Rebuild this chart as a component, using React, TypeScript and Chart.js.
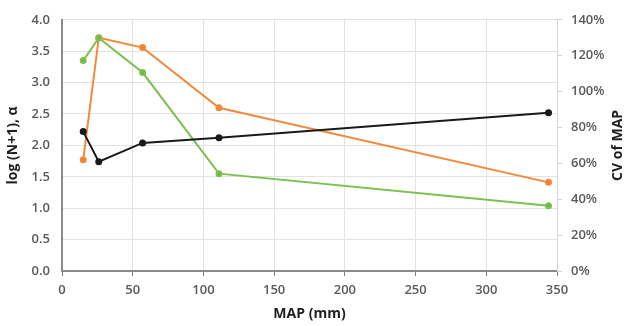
import React, { useEffect, useRef } from "react";
import { Chart, registerables } from "chart.js";

Chart.register(...registerables);

const mapValues = [15, 26, 57, 111, 344];
const blackValues = [2.22, 1.74, 2.04, 2.12, 2.52];
const greenValues = [3.35, 3.71, 3.16, 1.55, 1.04];
const orangeCvPercent = [62, 130, 124.5, 91, 49.4];

const xTitle = "MAP (mm)";
const leftTitle = "log (N+1), α";
const rightTitle = "CV of MAP";

const FONT = "'Open Sans', 'Liberation Sans', sans-serif";

const rightTitlePlugin = {
  id: "rightTitle",
  afterDraw(chart: any) {
    const ctx = chart.ctx;
    const s = chart.scales.y1;
    const area = chart.chartArea;
    ctx.save();
    ctx.translate(s.right - 8, (area.top + area.bottom) / 2);
    ctx.rotate(-Math.PI / 2);
    ctx.font = `bold 14px ${FONT}`;
    ctx.fillStyle = "#1f1f1f";
    ctx.textAlign = "center";
    ctx.textBaseline = "middle";
    ctx.fillText(rightTitle, 0, 0);
    ctx.restore();
  },
};

export default function App() {
  const ref = useRef<HTMLCanvasElement>(null);
  useEffect(() => {
    if (!ref.current) return;
    const pts = (ys: number[]) => mapValues.map((x, i) => ({ x, y: ys[i] }));
    const chart = new Chart(ref.current, {
      type: "line",
      data: {
        datasets: [
          {
            label: "black",
            data: pts(blackValues),
            borderColor: "#1a1a1a",
            backgroundColor: "#1a1a1a",
            borderWidth: 2,
            pointRadius: 2.5,
            yAxisID: "y",
          },
          {
            label: "green",
            data: pts(greenValues),
            borderColor: "#7cc04f",
            backgroundColor: "#6fb544",
            borderWidth: 2,
            pointRadius: 2.5,
            yAxisID: "y",
          },
          {
            label: "CV",
            data: pts(orangeCvPercent),
            borderColor: "#f28a3c",
            backgroundColor: "#f07f2e",
            borderWidth: 2,
            pointRadius: 2.5,
            yAxisID: "y1",
          },
        ],
      },
      options: {
        animation: false,
        responsive: false,
        maintainAspectRatio: false,
        layout: { padding: { top: 14, left: 0, right: 0, bottom: 0 } },
        plugins: { legend: { display: false }, tooltip: { enabled: false } },
        scales: {
          x: {
            type: "linear",
            min: 0,
            max: 350,
            ticks: { stepSize: 50, color: "#595959", font: { family: FONT, size: 13, weight: "600" }, padding: 6 },
            grid: { color: "#e2e2e2", tickColor: "#7f7f7f", tickLength: 5, lineWidth: 1 },
            border: { color: "#8a8a8a", width: 2 },
            title: { display: true, text: xTitle, color: "#1f1f1f", font: { family: FONT, size: 14, weight: "bold" }, padding: { top: 4, bottom: 4 } },
            afterFit: (s: any) => { s.height = 55; },
          },
          y: {
            type: "linear",
            position: "left",
            min: 0,
            max: 4,
            ticks: { stepSize: 0.5, color: "#595959", font: { family: FONT, size: 13, weight: "600" }, padding: 12, callback: (v: any) => Number(v).toFixed(1) },
            grid: { color: "#e2e2e2", drawTicks: false, lineWidth: 1 },
            border: { color: "#8a8a8a", width: 2 },
            title: { display: true, text: leftTitle, color: "#1f1f1f", font: { family: FONT, size: 14, weight: "bold" }, padding: { top: 5, bottom: 0 } },
            afterFit: (s: any) => { s.width = 62; },
          },
          y1: {
            type: "linear",
            position: "right",
            min: 0,
            max: 140,
            ticks: { stepSize: 20, color: "#595959", font: { family: FONT, size: 13, weight: "600" }, padding: 9, callback: (v: any) => `${v}%` },
            grid: { drawOnChartArea: false, tickColor: "#d0d0d0", tickLength: 5 },
            border: { color: "#d6d6d6", width: 1 },
            afterFit: (s: any) => { s.width = 69; },
          },
        },
      },
      plugins: [rightTitlePlugin],
    } as any);
    return () => chart.destroy();
  }, []);
  return (
    <div style={{ position: "fixed", left: 0, top: 0, width: 626, height: 326, background: "#fff" }}>
      <canvas ref={ref} width={626} height={326} style={{ width: 626, height: 326, display: "block" }} />
    </div>
  );
}
